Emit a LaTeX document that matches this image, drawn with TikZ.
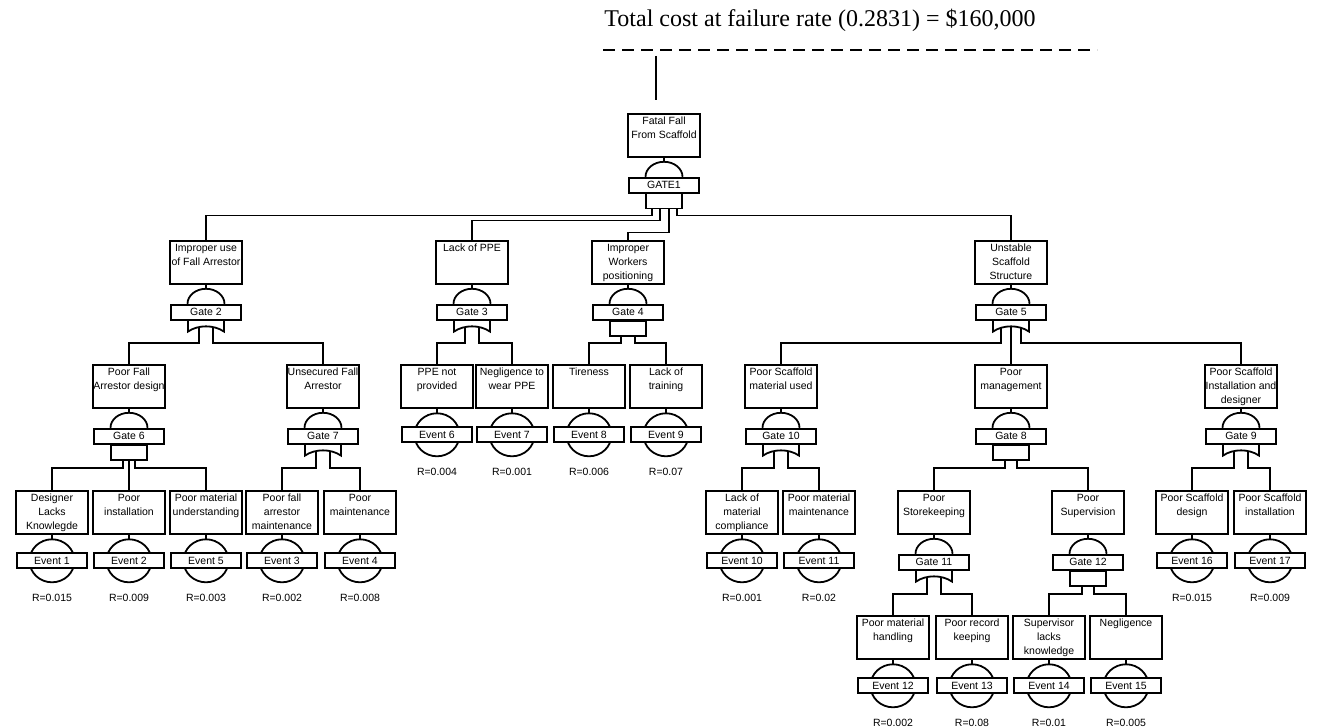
\documentclass[tikz,border=0pt]{standalone}
\usepackage{fontspec}
\newfontfamily\boxfont{Liberation Sans}
\newfontfamily\titlefont{Liberation Serif}
\usetikzlibrary{positioning}

% box text, top aligned, lines kept as given
\newcommand{\btxt}[1]{\parbox[c][41pt][t]{70pt}{\makebox[70pt][c]{\begin{tabular}[t]{@{}c@{}}#1\end{tabular}}}}
% dome + gate label under a box
\newcommand{\gatehead}[3]{%
  \draw[ln] (#1.south) -- ++(0,4);
  \draw[ln] ([xshift=-18.5pt,yshift=-19pt]#1.south) arc[start angle=180,end angle=0,x radius=18.5pt,y radius=15pt];
  \node[lbl,anchor=north] (#2) at ([yshift=-19pt]#1.south) {#3};}
\newcommand{\andbody}[1]{\draw[ln,shift={(#1.south)}] (-18,0) rectangle (18,15);}
\newcommand{\orbody}[1]{\draw[ln,shift={(#1.south)}] (-18,0) -- (-18,11) .. controls (-8,4) and (8,4) .. (18,11) -- (18,0);}
% basic event: circle, label, rate
\newcommand{\basicev}[4]{%
  \draw[ln] (#1.south) -- ++(0,4);
  \draw[ln] ([yshift=-26pt]#1.south) ellipse[x radius=22.5pt,y radius=21.5pt];
  \node[lbl] (#2) at ([yshift=-26pt]#1.south) {#3};
  \node[rtxt] (#2r) at ([yshift=-63pt]#1.south) {#4};}

\begin{document}
\begin{tikzpicture}[x=1pt, y=-1pt,
    ln/.style={line width=1.8pt},
    evbox/.style={draw, line width=1.8pt, anchor=north, inner sep=1pt,
      font=\boxfont\fontsize{10.5}{14}\selectfont},
    lbl/.style={draw, fill=white, line width=1.8pt, minimum width=70pt,
      minimum height=15pt, inner sep=0pt, font=\boxfont\fontsize{10.5}{12}\selectfont},
    rtxt/.style={font=\boxfont\fontsize{10.5}{12}\selectfont}]
  \useasboundingbox (0,0) rectangle (1322,727);

  % cost line
  \node[font=\titlefont\fontsize{24}{28}\selectfont] (cost) at (820,20)
    {Total cost at failure rate (0.2831) = \$160,000};
  \coordinate (dashL) at (603,50);
  \coordinate (dashR) at (1097,50);
  \draw[ln, dash pattern=on 12pt off 7pt] (dashL) -- (dashR);
  \coordinate (costtop) at (656,56);
  \coordinate (costbot) at (656,100);
  \draw[ln] (costtop) -- (costbot);

  % top event
  \node[evbox] (top) at (664,113) {\btxt{Fatal Fall\\From Scaffold}};
  \gatehead{top}{g1}{GATE1}
  \andbody{g1}

  % level 1
  \node[evbox] (ue)  at (206,240)  {\btxt{Improper use\\of Fall Arrestor}};
  \node[evbox] (ppe) at (472,240)  {\btxt{Lack of PPE}};
  \node[evbox] (wp)  at (628,240)  {\btxt{Improper\\Workers\\positioning}};
  \node[evbox] (uss) at (1011,240) {\btxt{Unstable\\Scaffold\\Structure}};
  \draw[ln] ([xshift=-12pt,yshift=-15pt]g1.south) -- ++(0,7) -| (ue.north);
  \draw[ln] ([xshift=-4pt,yshift=-15pt]g1.south) -- ++(0,12) -| (ppe.north);
  \draw[ln] ([xshift=5pt,yshift=-15pt]g1.south) -- ++(0,24) -| (wp.north);
  \draw[ln] ([xshift=13pt,yshift=-15pt]g1.south) -- ++(0,7) -| (uss.north);

  \gatehead{ue}{g2}{Gate 2}  \orbody{g2}
  \gatehead{ppe}{g3}{Gate 3} \orbody{g3}
  \gatehead{wp}{g4}{Gate 4}  \andbody{g4}
  \gatehead{uss}{g5}{Gate 5} \orbody{g5}

  % level 2
  \node[evbox] (fad) at (129,364)  {\btxt{Poor Fall\\Arrestor design}};
  \node[evbox] (ufa) at (323,364)  {\btxt{Unsecured Fall\\Arrestor}};
  \node[evbox] (b6)  at (437,364)  {\btxt{PPE not\\provided}};
  \node[evbox] (b7)  at (512,364)  {\btxt{Negligence to\\wear PPE}};
  \node[evbox] (b8)  at (589,364)  {\btxt{Tireness}};
  \node[evbox] (b9)  at (666,364)  {\btxt{Lack of\\training}};
  \node[evbox] (smu) at (781,364)  {\btxt{Poor Scaffold\\material used}};
  \node[evbox] (pm)  at (1011,364) {\btxt{Poor\\management}};
  \node[evbox] (sid) at (1241,364) {\btxt{Poor Scaffold\\Installation and\\designer}};

  \draw[ln] ([xshift=-7pt,yshift=-6pt]g2.south) -- ++(0,16) -| (fad.north);
  \draw[ln] ([xshift=7pt,yshift=-6pt]g2.south) -- ++(0,16) -| (ufa.north);
  \draw[ln] ([xshift=-7pt,yshift=-6pt]g3.south) -- ++(0,16) -| (b6.north);
  \draw[ln] ([xshift=7pt,yshift=-6pt]g3.south) -- ++(0,16) -| (b7.north);
  \draw[ln] ([xshift=-7pt,yshift=-15pt]g4.south) -- ++(0,7) -| (b8.north);
  \draw[ln] ([xshift=7pt,yshift=-15pt]g4.south) -- ++(0,7) -| (b9.north);
  \draw[ln] ([xshift=-10pt,yshift=-7pt]g5.south) -- ++(0,15) -| (smu.north);
  \draw[ln] ([yshift=-6pt]g5.south) -- (pm.north);
  \draw[ln] ([xshift=10pt,yshift=-7pt]g5.south) -- ++(0,15) -| (sid.north);

  \gatehead{fad}{g6}{Gate 6}  \andbody{g6}
  \gatehead{ufa}{g7}{Gate 7}  \orbody{g7}
  \gatehead{smu}{g10}{Gate 10} \orbody{g10}
  \gatehead{pm}{g8}{Gate 8}   \andbody{g8}
  \gatehead{sid}{g9}{Gate 9}  \orbody{g9}

  \basicev{b6}{e6}{Event 6}{R=0.004}
  \basicev{b7}{e7}{Event 7}{R=0.001}
  \basicev{b8}{e8}{Event 8}{R=0.006}
  \basicev{b9}{e9}{Event 9}{R=0.07}

  % level 3
  \node[evbox] (b1)  at (52,490)   {\btxt{Designer\\Lacks\\Knowlegde}};
  \node[evbox] (b2)  at (129,490)  {\btxt{Poor\\installation}};
  \node[evbox] (b5)  at (206,490)  {\btxt{Poor material\\understanding}};
  \node[evbox] (b3)  at (282,490)  {\btxt{Poor fall\\arrestor\\maintenance}};
  \node[evbox] (b4)  at (360,490)  {\btxt{Poor\\maintenance}};
  \node[evbox] (b10) at (742,490)  {\btxt{Lack of\\material\\compliance}};
  \node[evbox] (b11) at (819,490)  {\btxt{Poor material\\maintenance}};
  \node[evbox] (psk) at (934,490)  {\btxt{Poor\\Storekeeping}};
  \node[evbox] (psv) at (1088,490) {\btxt{Poor\\Supervision}};
  \node[evbox] (b16) at (1192,490) {\btxt{Poor Scaffold\\design}};
  \node[evbox] (b17) at (1270,490) {\btxt{Poor Scaffold\\installation}};

  \draw[ln] ([xshift=-6pt,yshift=-15pt]g6.south) -- ++(0,8) -| (b1.north);
  \draw[ln] ([yshift=-15pt]g6.south) -- (b2.north);
  \draw[ln] ([xshift=6pt,yshift=-15pt]g6.south) -- ++(0,8) -| (b5.north);
  \draw[ln] ([xshift=-7pt,yshift=-6pt]g7.south) -- ++(0,17) -| (b3.north);
  \draw[ln] ([xshift=7pt,yshift=-6pt]g7.south) -- ++(0,17) -| (b4.north);
  \draw[ln] ([xshift=-7pt,yshift=-6pt]g10.south) -- ++(0,17) -| (b10.north);
  \draw[ln] ([xshift=7pt,yshift=-6pt]g10.south) -- ++(0,17) -| (b11.north);
  \draw[ln] ([xshift=-6pt,yshift=-15pt]g8.south) -- ++(0,8) -| (psk.north);
  \draw[ln] ([xshift=6pt,yshift=-15pt]g8.south) -- ++(0,8) -| (psv.north);
  \draw[ln] ([xshift=-7pt,yshift=-6pt]g9.south) -- ++(0,17) -| (b16.north);
  \draw[ln] ([xshift=7pt,yshift=-6pt]g9.south) -- ++(0,17) -| (b17.north);

  \basicev{b1}{e1}{Event 1}{R=0.015}
  \basicev{b2}{e2}{Event 2}{R=0.009}
  \basicev{b5}{e5}{Event 5}{R=0.003}
  \basicev{b3}{e3}{Event 3}{R=0.002}
  \basicev{b4}{e4}{Event 4}{R=0.008}
  \basicev{b10}{e10}{Event 10}{R=0.001}
  \basicev{b11}{e11}{Event 11}{R=0.02}
  \basicev{b16}{e16}{Event 16}{R=0.015}
  \basicev{b17}{e17}{Event 17}{R=0.009}

  \gatehead{psk}{g11}{Gate 11} \orbody{g11}
  \gatehead{psv}{g12}{Gate 12} \andbody{g12}

  % level 4
  \node[evbox] (b12) at (893,615)  {\btxt{Poor material\\handling}};
  \node[evbox] (b13) at (972,615)  {\btxt{Poor record\\keeping}};
  \node[evbox] (b14) at (1049,615) {\btxt{Supervisor\\lacks\\knowledge}};
  \node[evbox] (b15) at (1126,615) {\btxt{Negligence}};

  \draw[ln] ([xshift=-7pt,yshift=-6pt]g11.south) -- ++(0,17) -| (b12.north);
  \draw[ln] ([xshift=7pt,yshift=-6pt]g11.south) -- ++(0,17) -| (b13.north);
  \draw[ln] ([xshift=-6pt,yshift=-15pt]g12.south) -- ++(0,8) -| (b14.north);
  \draw[ln] ([xshift=6pt,yshift=-15pt]g12.south) -- ++(0,8) -| (b15.north);

  \basicev{b12}{e12}{Event 12}{R=0.002}
  \basicev{b13}{e13}{Event 13}{R=0.08}
  \basicev{b14}{e14}{Event 14}{R=0.01}
  \basicev{b15}{e15}{Event 15}{R=0.005}
\end{tikzpicture}
\end{document}
